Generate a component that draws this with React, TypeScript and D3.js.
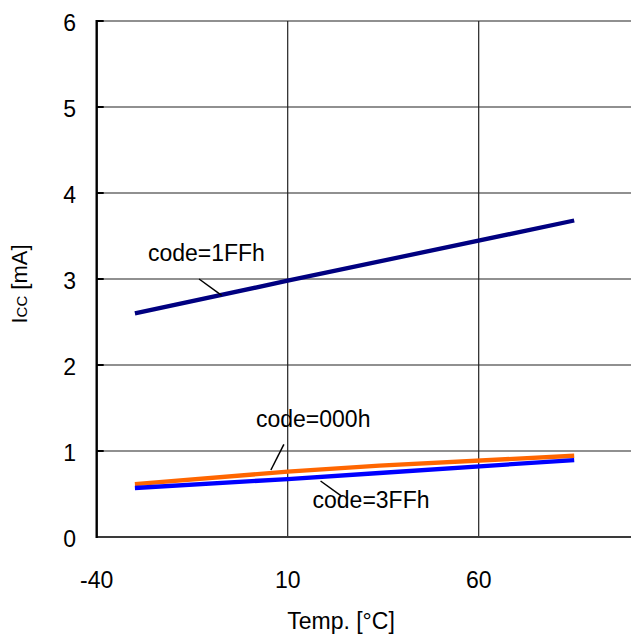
import React from "react";
import * as d3 from "d3";

const temps1FF = [-30, 10, 85];
const icc1FF = [2.6, 2.98, 3.68];
const temps000 = [-30, 10, 34, 85];
const icc000 = [0.615, 0.76, 0.83, 0.945];
const temps3FF = [-30, 10, 34, 85];
const icc3FF = [0.57, 0.674, 0.744, 0.895];

const xTicks = [-40, 10, 60, 110];
const yTicks = [0, 1, 2, 3, 4, 5, 6];

const labels = [
  { text: "code=1FFh", x: -26.6, y: 3.21, lx1: -13.2, ly1: 3.0, lx2: -7.3, ly2: 2.81 },
  { text: "code=000h", x: 1.7, y: 1.28, lx1: 9.0, ly1: 1.078, lx2: 5.6, ly2: 0.779 },
  { text: "code=3FFh", x: 16.5, y: 0.343, lx1: 18.6, ly1: 0.651, lx2: 24.0, ly2: 0.477 },
];

const W = 631;
const H = 635;
const FONT = "'Liberation Sans', Arial, sans-serif";

export default function App() {
  const x = d3.scaleLinear().domain([-40, 110]).range([96.7, 669.7]);
  const y = d3.scaleLinear().domain([0, 6]).range([537, 21]);
  const line = d3
    .line<[number, number]>()
    .x((d) => x(d[0]))
    .y((d) => y(d[1]));
  const series = [
    { t: temps000, v: icc000, color: "#FF6600" },
    { t: temps3FF, v: icc3FF, color: "#0000FF" },
    { t: temps1FF, v: icc1FF, color: "#000080" },
  ];
  return (
    <svg
      width={W}
      height={H}
      style={{ position: "absolute", left: 0, top: 0, background: "#fff" }}
      fontFamily={FONT}
    >
      {yTicks.slice(1).map((t) => (
        <line key={"hy" + t} x1={x(-40)} x2={x(110)} y1={y(t)} y2={y(t)} stroke="#222" strokeWidth={1.2} />
      ))}
      {xTicks.slice(1).map((t) => (
        <line key={"vx" + t} x1={x(t)} x2={x(t)} y1={y(6)} y2={y(0)} stroke="#222" strokeWidth={1.2} />
      ))}
      {yTicks.map((t) => (
        <line key={"yt" + t} x1={x(-40)} x2={x(-40) + 7} y1={y(t)} y2={y(t)} stroke="#000" strokeWidth={2} />
      ))}
      <line x1={x(-40)} x2={x(110)} y1={y(0)} y2={y(0)} stroke="#3a3a3a" strokeWidth={2.2} />
      <line x1={x(-40)} x2={x(-40)} y1={y(6) - 1} y2={y(0) + 1} stroke="#000" strokeWidth={2.4} />
      {series.map((s, i) => (
        <path
          key={i}
          d={line(s.t.map((t, j) => [t, s.v[j]] as [number, number])) || ""}
          fill="none"
          stroke={s.color}
          strokeWidth={4.3}
        />
      ))}
      {labels.map((l) => (
        <g key={l.text}>
          <line x1={x(l.lx1)} y1={y(l.ly1)} x2={x(l.lx2)} y2={y(l.ly2)} stroke="#000" strokeWidth={1.5} />
          <text x={x(l.x)} y={y(l.y)} fontSize={23} fill="#000">
            {l.text}
          </text>
        </g>
      ))}
      {yTicks.map((t) => (
        <text key={"yl" + t} x={76} y={y(t) + 9.5} fontSize={23} textAnchor="end" fill="#000">
          {t}
        </text>
      ))}
      {xTicks.slice(0, 3).map((t) => (
        <text key={"xl" + t} x={x(t)} y={588} fontSize={23} textAnchor="middle" fill="#000">
          {t}
        </text>
      ))}
      <text x={341} y={629} fontSize={23} textAnchor="middle" fill="#000">
        Temp. [°C]
      </text>
      <text transform="translate(27,284) rotate(-90)" fontSize={22} textAnchor="middle" fill="#000">
        I<tspan fontSize={15}>CC</tspan> [mA]
      </text>
    </svg>
  );
}
